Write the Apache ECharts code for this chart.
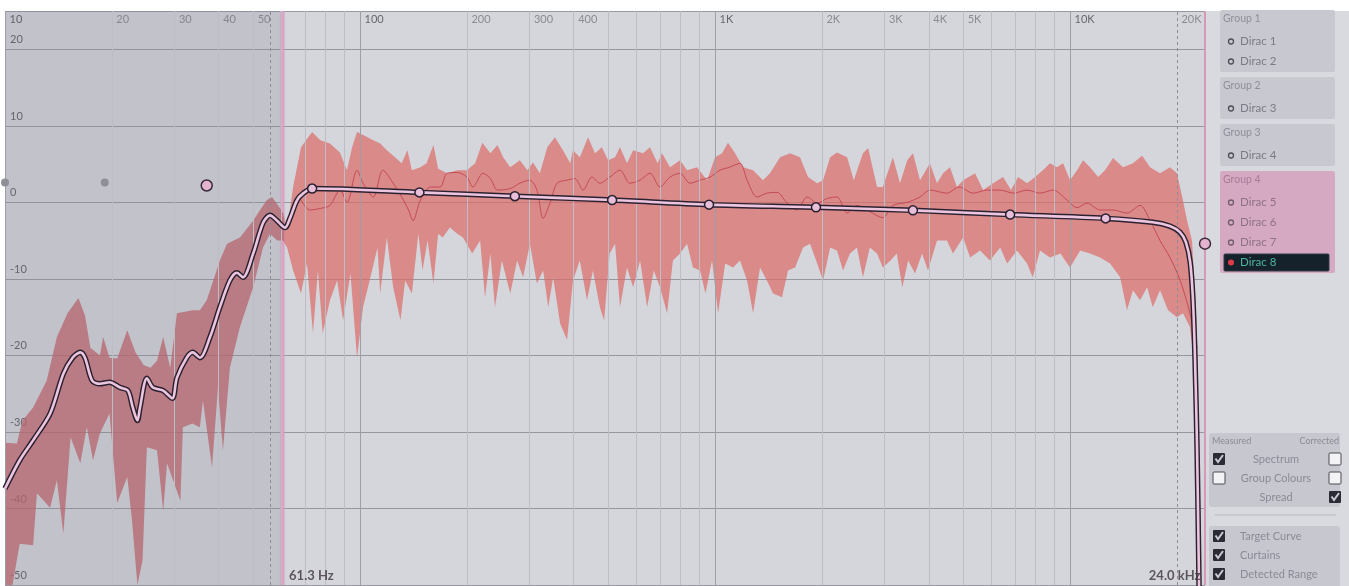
<!DOCTYPE html>
<html>
<head>
<meta charset="utf-8">
<script src="https://cdn.jsdelivr.net/npm/echarts@6.0.0/dist/echarts.min.js"></script>
<style>
  html, body { margin: 0; padding: 0; background: #fff; }
  #chart { width: 1349px; height: 586px; }
</style>
</head>
<body>
<div id="chart"></div>
<script>
// all x values in Hz, y values in dB
const spreadUpper = [
  [10, -31.4], [10.8, -31.5], [11.2, -28.5], [12.0, -26.8], [13.1, -23.3], [14.0, -17.6], [15.0, -14.5], [16.1, -12.5],
  [16.8, -14.8], [17.4, -19.0], [18.5, -20.0], [18.9, -17.6], [19.7, -20.3], [20.7, -20.4], [22.1, -16.7], [23.3, -19.6],
  [24.6, -21.3], [25.7, -21.6], [26.8, -20.7], [27.9, -17.6], [29.2, -21.6], [30.5, -14.5], [33.8, -14.1], [35.4, -14.1],
  [37.0, -12.8], [38.6, -10.2], [40.3, -7.6], [42.2, -5.4], [45.9, -4.6], [50.0, -2.4], [52.3, -1.0], [54.7, 0.3],
  [56.5, 0.7], [58.8, -0.4], [60.7, -1.4], [62.3, -3.7], [64.8, 2.0], [68.2, 7.2], [73.3, 9.2], [77.3, 8.1],
  [82.3, 7.7], [87.8, 6.5], [91.9, 4.2], [95.0, 7.2], [98.1, 9.2], [105, 8.5], [109, 8.1], [114, 7.7],
  [119, 6.8], [125.5, 5.9], [131, 5.1], [136, 6.8], [140, 4.2], [148, 4.6], [154, 5.1], [161, 7.5],
  [166, 4.4], [176, 3.8], [188, 4.2], [200, 4.2], [211, 5.1], [221, 7.8], [233, 6.4], [244, 7.5],
  [253, 5.9], [265, 4.6], [282, 5.5], [296, 4.2], [307, 5.2], [321, 3.8], [337, 7.2], [354, 8.5],
  [373, 6.8], [391, 5.1], [398, 6.8], [416, 5.9], [439, 8.5], [459, 6.4], [480, 7.2], [500, 5.5],
  [523, 5.9], [540, 7.2], [565, 5.1], [588, 6.8], [627, 6.4], [656, 7.2], [689, 5.1], [709, 6.4],
  [747, 4.6], [797, 5.5], [834, 4.2], [890, 4.6], [950, 2.9], [1000, 5.9], [1047, 6.4], [1088, 7.8],
  [1139, 6.4], [1200, 4.6], [1280, 4.2], [1365, 2.9], [1428, 3.8], [1525, 5.9], [1627, 6.4], [1735, 5.9],
  [1828, 3.3], [1940, 2.5], [2015, 2.9], [2110, 5.9], [2206, 6.5], [2356, 5.9], [2460, 2.9], [2610, 6.4],
  [2700, 7.1], [2860, 2.0], [2970, 2.0], [3170, 5.9], [3320, 2.5], [3480, 5.5], [3610, 6.4], [3780, 2.9],
  [4030, 5.1], [4220, 2.5], [4390, 3.8], [4590, 4.6], [4800, 2.0], [5000, 2.9], [5400, 3.8], [5690, 1.6],
  [6070, 2.5], [6480, 3.3], [6820, 1.6], [7140, 3.3], [7570, 2.5], [7970, 3.3], [8390, 4.2], [8780, 5.1],
  [9190, 4.6], [9560, 5.1], [10000, 2.9], [10470, 4.2], [10880, 5.5], [11390, 4.6], [12000, 3.3], [12550, 4.2],
  [13220, 5.8], [14100, 4.6], [15040, 5.1], [15960, 6.1], [16810, 4.6], [17930, 3.8], [19120, 4.6], [20000, 3.8],
  [20700, 0.7], [21370, -2.4], [22060, -5.0], [22500, -11.9], [22800, -18.0], [22940, -22.0]
];

const spreadLower = [
  [10, -50], [10.5, -50], [11.0, -44.6], [12.0, -44.8], [12.3, -38.0], [13.4, -39.9], [14.0, -36.3], [14.6, -43.3],
  [15.3, -30.7], [16.3, -34.1], [17.0, -29.4], [17.7, -33.7], [18.5, -30.2], [19.7, -27.6], [20.7, -39.3], [22.1, -35.9],
  [22.8, -41.6], [23.6, -50], [24.4, -46.8], [25.1, -32.0], [26.8, -32.4], [27.9, -40.3], [28.6, -34.1], [31.2, -39.0],
  [31.7, -29.4], [33.7, -28.9], [35.4, -29.4], [36.1, -25.9], [38.3, -34.6], [39.8, -24.2], [41.1, -32.4], [43.0, -21.6],
  [45.9, -16.3], [50.0, -11.1], [53.3, -5.9], [55.8, -4.1], [58.4, -5.0], [60.7, -5.0], [62.3, -5.9], [64.8, -8.9],
  [68.2, -11.9], [70.9, -8.0], [73.7, -17.1], [76.1, -8.9], [78.5, -17.1], [82.3, -12.8], [86.2, -10.2], [89.6, -15.4],
  [94.0, -9.3], [98.1, -20.3], [102, -13.7], [107, -9.8], [112, -5.9], [114, -11.9], [119, -4.6], [124, -11.1],
  [130, -15.4], [134, -10.2], [140, -11.9], [146, -4.1], [150, -8.9], [155, -5.0], [161, -10.6], [166, -4.1],
  [171, -4.6], [179, -3.3], [188, -4.1], [195, -4.6], [207, -6.7], [218, -5.0], [225, -12.4], [233, -6.7],
  [240, -13.7], [251, -7.6], [265, -11.9], [277, -7.6], [288, -9.8], [301, -5.4], [315, -10.6], [328, -8.9],
  [339, -13.7], [350, -9.8], [366, -15.8], [383, -18.0], [398, -10.2], [416, -7.6], [436, -12.8], [453, -8.9],
  [474, -13.7], [487, -15.4], [505, -6.7], [523, -5.4], [540, -13.7], [565, -8.5], [588, -11.1], [615, -7.6],
  [644, -13.7], [672, -8.9], [700, -11.1], [733, -14.5], [761, -7.6], [797, -6.7], [834, -5.4], [867, -8.5],
  [908, -8.9], [940, -11.9], [981, -7.6], [1020, -14.5], [1068, -8.0], [1124, -8.5], [1176, -7.6], [1231, -10.2],
  [1280, -14.5], [1339, -8.5], [1400, -10.2], [1457, -11.9], [1544, -12.4], [1606, -8.9], [1681, -8.5], [1770, -5.9],
  [1852, -5.4], [1940, -8.0], [2015, -10.2], [2110, -5.9], [2206, -6.3], [2294, -8.9], [2400, -6.7], [2510, -5.9],
  [2610, -9.8], [2730, -5.9], [2860, -6.7], [2970, -8.5], [3120, -7.6], [3250, -6.7], [3370, -11.1], [3500, -7.6],
  [3660, -9.3], [3830, -6.7], [3980, -8.9], [4220, -5.0], [4500, -5.0], [4680, -6.7], [5000, -4.6], [5230, -7.2],
  [5580, -6.3], [5950, -7.6], [6360, -5.9], [6650, -8.0], [7090, -6.3], [7570, -8.0], [7850, -9.8], [8230, -6.3],
  [8780, -7.2], [9400, -6.7], [10000, -8.5], [10680, -6.3], [11390, -6.7], [12150, -7.2], [12970, -8.0], [13840, -9.8],
  [14470, -14.1], [15040, -11.5], [15750, -12.8], [16490, -11.1], [17100, -13.7], [17930, -11.5], [18890, -14.1], [20000, -15.0],
  [20800, -14.5], [21770, -16.3], [22500, -22.0], [22940, -22.0]
];

const measured = [
  [68.2, 0.3], [72.2, -1.0], [77.3, -0.8], [82.3, -0.4], [87.8, 1.6], [91.9, 0], [98.1, 4.2], [102, 2.5],
  [109, 0.7], [116, 4.2], [124, 2.5], [131, 0.7], [137, -1.0], [141, -2.4], [148, 0.3], [158, 2.0],
  [168, 2.0], [176, 3.8], [188, 3.9], [200, 3.3], [208, 2.0], [222, 3.8], [233, 3.1], [244, 1.6],
  [265, 1.8], [282, 2.5], [301, 2.9], [315, 1.6], [328, -2.1], [343, -0.1], [359, 2.5], [383, 2.9],
  [403, 3.1], [425, 1.6], [450, 3.3], [474, 2.5], [505, 3.3], [540, 4.2], [576, 2.5], [615, 2.9],
  [656, 3.8], [700, 2.0], [747, 3.3], [797, 3.8], [850, 2.5], [908, 2.9], [968, 3.3], [1033, 4.2],
  [1100, 4.6], [1176, 5.1], [1231, 2.9], [1314, 0.7], [1400, 1.2], [1495, 1.3], [1596, -0.1], [1700, -1.0],
  [1817, 0.7], [1940, -0.1], [2070, 0.5], [2206, 0.7], [2356, -1.4], [2510, -0.4], [2680, -1.0], [2970, -2.0],
  [3170, -0.4], [3480, 0], [3780, 0.7], [4030, 1.6], [4500, 1.2], [4870, 2.0], [5330, 1.2], [5840, 1.6],
  [6360, 1.6], [6930, 1.2], [7570, 1.6], [8230, 1.2], [8960, 1.6], [9810, 0.3], [10470, -0.7], [11160, -0.1],
  [12150, -1.0], [13220, -1.0], [14470, -1.4], [15750, -0.4], [16810, -2.4], [17930, -5.0], [19120, -7.2], [20430, -10.2],
  [21770, -14.5], [22800, -19.0]
];

const targetCurve = [
  [10, -37.4], [11.0, -33.7], [12.0, -31.1], [13.4, -27.6], [14.6, -22.4], [15.5, -20.3], [16.3, -19.6], [16.8, -20.3],
  [17.6, -23.3], [18.5, -23.7], [19.7, -23.5], [21.1, -24.2], [22.2, -24.6], [22.9, -26.8], [23.6, -28.5], [24.0, -26.8],
  [25.1, -23.0], [26.1, -24.2], [27.9, -24.6], [29.6, -25.6], [30.5, -22.9], [32.5, -20.3], [33.8, -19.6], [35.4, -20.3],
  [37.8, -17.6], [40.3, -13.7], [43.0, -10.2], [45.0, -9.2], [46.8, -9.8], [50.0, -6.7], [53.3, -2.7], [55.8, -1.7],
  [58.4, -2.4], [61.5, -3.3], [63.6, -2.0], [66.5, 0.3], [69.3, 1.2], [73.3, 1.8], [147, 1.3], [273, 0.8],
  [513, 0.3], [962, -0.3], [1925, -0.65], [3610, -1.05], [6780, -1.6], [12600, -2.1], [17100, -2.6], [19100, -3.1],
  [20400, -3.9], [21200, -5.2], [21800, -7.8], [22200, -12.8], [22500, -20.7], [22800, -32.4], [23100, -50.5]
];

const targetPoints = [[73.3, 1.8], [147, 1.3], [273, 0.8], [513, 0.3], [962, -0.3], [1925, -0.65], [3610, -1.05], [6780, -1.6], [12600, -2.1]];
const curtainGray = [[10, 2.6], [19.1, 2.6]];
const curtainPink = [[37.0, 2.2], [24000, -5.4]];

const xGridMajor = [10, 100, 1000, 10000];
const xGridMinor = [20, 30, 40, 50, 60, 70, 80, 90, 200, 300, 400, 500, 600, 700, 800, 900, 2000, 3000, 4000, 5000, 6000, 7000, 8000, 9000];
const xTickValues = [10, 20, 30, 40, 50, 100, 200, 300, 400, 1000, 2000, 3000, 4000, 5000, 10000, 20000];
const xTickLabels = ['10', '20', '30', '40', '50', '100', '200', '300', '400', '1K', '2K', '3K', '4K', '5K', '10K', '20K'];
const detectedRange = [55.8, 20000];
const rangeLow = 61.3;
const rangeHigh = 24000;

const groups = [
  { name: 'Group 1', items: ['Dirac 1', 'Dirac 2'] },
  { name: 'Group 2', items: ['Dirac 3'] },
  { name: 'Group 3', items: ['Dirac 4'] },
  { name: 'Group 4', items: ['Dirac 5', 'Dirac 6', 'Dirac 7', 'Dirac 8'] }
];
const activeGroup = 'Group 4';
const activeItem = 'Dirac 8';
const spreadOptions = [
  { label: 'Spectrum', measured: true, corrected: false },
  { label: 'Group Colours', measured: false, corrected: false },
  { label: 'Spread', measured: null, corrected: true }
];
const viewOptions = [
  { label: 'Target Curve', on: true },
  { label: 'Curtains', on: true },
  { label: 'Detected Range', on: true }
];

const FONT = 'Lato, "Noto Sans", sans-serif';
const yMin = -50, yMax = 25;

const chart = echarts.init(document.getElementById('chart'));

function checkbox(x, cy, on) {
  if (on) {
    return [
      { type: 'rect', shape: { x: x, y: cy - 6, width: 12, height: 12, r: 1 }, style: { fill: '#2a2b35' } },
      { type: 'polyline', shape: { points: [[x + 2.5, cy - 0.5], [x + 5, cy + 3], [x + 10, cy - 4]] },
        style: { stroke: '#c9cad2', lineWidth: 2, fill: null } }
    ];
  }
  return [{ type: 'rect', shape: { x: x, y: cy - 6, width: 12, height: 12, r: 1 },
    style: { fill: '#f3f3f6', stroke: '#4a4b55', lineWidth: 1 } }];
}

function txt(x, y, s, fill, size, align) {
  return { type: 'text', x: x, y: y,
    style: { text: s, fill: fill, font: size + 'px ' + FONT, textAlign: align || 'left', textVerticalAlign: 'middle' } };
}

function buildPanel() {
  let els = [];
  els.push({ type: 'rect', shape: { x: 1205, y: 11, width: 144, height: 575 }, style: { fill: '#d9dadf' } });

  let y = 10;
  groups.forEach(g => {
    const active = g.name === activeGroup;
    const h = 22 + 20 * g.items.length;
    els.push({ type: 'rect', shape: { x: 1220, y: y, width: 115, height: h, r: 2 },
      style: { fill: active ? '#d6a9c3' : '#c8c9d0' } });
    els.push(txt(1223, y + 9, g.name, active ? '#a97b97' : '#8e8f9a', 10.5));
    g.items.forEach((it, i) => {
      const cy = y + 31.5 + 20 * i;
      const sel = it === activeItem;
      if (sel) {
        els.push({ type: 'rect', shape: { x: 1224, y: cy - 8.5, width: 105, height: 17, r: 1 },
          style: { fill: '#16222b', stroke: '#2e3c46' } });
        els.push({ type: 'circle', shape: { cx: 1231, cy: cy, r: 3 }, style: { fill: '#e0394a' } });
      } else {
        els.push({ type: 'circle', shape: { cx: 1231, cy: cy, r: 2.5 },
          style: { fill: null, stroke: active ? '#6f5c6c' : '#4d4e58', lineWidth: 1.3 } });
      }
      els.push(txt(1240, cy, it, sel ? '#4db3a2' : (active ? '#8d7287' : '#7a7b86'), 11.5));
    });
    y += h + 5;
  });

  // measured / corrected box
  els.push({ type: 'rect', shape: { x: 1209, y: 433, width: 131, height: 74, r: 3 }, style: { fill: '#c6c7cf' } });
  els.push(txt(1212, 441, 'Measured', '#8a8b95', 9));
  els.push(txt(1339, 441, 'Corrected', '#8a8b95', 9, 'right'));
  spreadOptions.forEach((o, i) => {
    const cy = 459 + 19 * i;
    if (o.measured !== null) els = els.concat(checkbox(1213, cy, o.measured));
    els = els.concat(checkbox(1329, cy, o.corrected));
    els.push(txt(1276, cy, o.label, '#8a8b96', 11, 'center'));
  });
  els.push({ type: 'line', shape: { x1: 1215, y1: 515, x2: 1336, y2: 515 }, style: { stroke: '#b6b7bf', lineWidth: 1 } });

  els.push({ type: 'rect', shape: { x: 1209, y: 526, width: 131, height: 62, r: 3 }, style: { fill: '#c6c7cf' } });
  viewOptions.forEach((o, i) => {
    const cy = 536 + 19 * i;
    els = els.concat(checkbox(1213, cy, o.on));
    els.push(txt(1240, cy, o.label, '#8a8b96', 11));
  });
  return els;
}

const gridLines = []
  .concat(xGridMajor.map(f => ({ xAxis: f, lineStyle: { color: '#9d9ea6', width: 1, type: 'solid' } })))
  .concat(xGridMinor.map(f => ({ xAxis: f, lineStyle: { color: '#bdbec5', width: 1, type: 'solid' } })));

const tickData = xTickValues.map(f => ({
  value: [f, yMax - 1.1],
  label: { color: (f === 10 || f === 100 || f === 1000 || f === 10000) ? '#4a4a52' : '#777880' }
}));

const option = {
  animation: false,
  backgroundColor: '#ffffff',
  grid: { left: 5, right: 144, top: 11, bottom: 1, show: true, backgroundColor: '#d5d6db', borderWidth: 0 },
  xAxis: {
    type: 'log', logBase: 10, min: 10, max: 24000,
    axisLine: { show: false }, axisTick: { show: false }, axisLabel: { show: false }, splitLine: { show: false }
  },
  yAxis: {
    type: 'value', min: yMin, max: yMax, interval: 10,
    axisLine: { show: false }, axisTick: { show: false },
    splitLine: { lineStyle: { color: '#96979f', width: 1 } },
    axisLabel: {
      inside: true, margin: 5, verticalAlign: 'bottom', padding: [0, 0, 4, 0],
      color: '#5c5c66', fontSize: 11, fontFamily: FONT, showMaxLabel: false,
      formatter: v => (v > 20 ? '' : String(v))
    }
  },
  graphic: buildPanel(),
  series: [
    {
      // frequency grid
      type: 'line', data: [], z: 1, silent: true,
      markLine: { silent: true, symbol: ['none', 'none'], label: { show: false }, data: gridLines }
    },
    {
      // curtain shade, under the spread
      type: 'line', data: [], z: 2, silent: true,
      markArea: {
        silent: true,
        data: [[{ xAxis: 10, itemStyle: { color: 'rgba(130,131,149,0.23)' } }, { xAxis: rangeLow }]]
      }
    },
    {
      type: 'custom', z: 3, silent: true, data: [[1000, 0]],
      renderItem: function (params, api) {
        const cs = params.coordSys;
        const cut = api.coord([rangeLow, 0])[0];
        const pts = spreadUpper.map(d => api.coord(d))
          .concat(spreadLower.slice().reverse().map(d => api.coord(d)));
        return {
          type: 'group',
          children: [
            {
              type: 'polygon', shape: { points: pts },
              style: { fill: 'rgba(182,100,108,0.75)' },
              clipPath: { type: 'rect', shape: { x: cs.x, y: cs.y, width: cut - cs.x, height: cs.height } }
            },
            {
              type: 'polygon', shape: { points: pts },
              style: { fill: 'rgba(218,105,102,0.7)' },
              clipPath: { type: 'rect', shape: { x: cut, y: cs.y, width: cs.x + cs.width - cut, height: cs.height } }
            }
          ]
        };
      }
    },
    {
      type: 'line', data: measured, z: 3, silent: true, showSymbol: false, smooth: 0.3,
      lineStyle: { color: '#c2404c', width: 1, opacity: 0.85 }
    },
    {
      // range markers
      type: 'line', data: [], z: 4, silent: true,
      markArea: {
        silent: true,
        data: [[{ xAxis: 59.5, itemStyle: { color: 'rgba(222,160,196,0.85)' } }, { xAxis: rangeLow }]]
      },
      markLine: {
        silent: true, symbol: ['none', 'none'], label: { show: false },
        data: [
          { xAxis: detectedRange[0], lineStyle: { color: '#8c8d96', width: 1, type: [3, 3] } },
          { xAxis: detectedRange[1], lineStyle: { color: '#8c8d96', width: 1, type: [3, 3] } },
          { xAxis: rangeHigh, lineStyle: { color: '#d69ab8', width: 2, type: 'solid' } }
        ]
      }
    },
    {
      type: 'line', data: targetCurve, z: 5, silent: true, showSymbol: false, smooth: 0.3,
      lineStyle: { color: '#2c2130', width: 5.5 }
    },
    {
      type: 'line', data: targetCurve, z: 6, silent: true, showSymbol: false, smooth: 0.3,
      lineStyle: { color: '#ecc6df', width: 2.6 }
    },
    {
      type: 'scatter', data: targetPoints, z: 7, silent: true, symbolSize: 9,
      itemStyle: { color: '#e8bfd9', borderColor: '#2c2130', borderWidth: 1.5, opacity: 1 }
    },
    {
      type: 'scatter', data: curtainGray, z: 7, silent: true, symbolSize: 8, clip: false,
      itemStyle: { color: '#8e8f99', opacity: 1 }
    },
    {
      type: 'scatter', data: curtainPink, z: 7, silent: true, symbolSize: 11, clip: false,
      itemStyle: { color: '#e3b3cf', borderColor: '#3a2a3a', borderWidth: 1.5, opacity: 1 }
    },
    {
      type: 'scatter', data: tickData, z: 8, silent: true, symbol: 'rect', symbolSize: 1, clip: false,
      itemStyle: { color: 'rgba(0,0,0,0)' },
      label: {
        show: true, position: 'right', distance: 4, fontSize: 11, fontFamily: FONT,
        formatter: p => xTickLabels[p.dataIndex]
      }
    },
    {
      type: 'scatter', z: 8, silent: true, symbol: 'rect', symbolSize: 1, clip: false,
      itemStyle: { color: 'rgba(0,0,0,0)' },
      data: [
        { value: [rangeLow, yMin + 1.2], label: { position: 'right', formatter: rangeLow.toFixed(1) + ' Hz' } },
        { value: [rangeHigh, yMin + 1.2], label: { position: 'left', formatter: (rangeHigh / 1000).toFixed(1) + ' kHz' } }
      ],
      label: { show: true, distance: 4, fontSize: 13, fontWeight: 'bold', color: '#3c3540', fontFamily: FONT }
    }
  ]
};

chart.setOption(option);
</script>
</body>
</html>
